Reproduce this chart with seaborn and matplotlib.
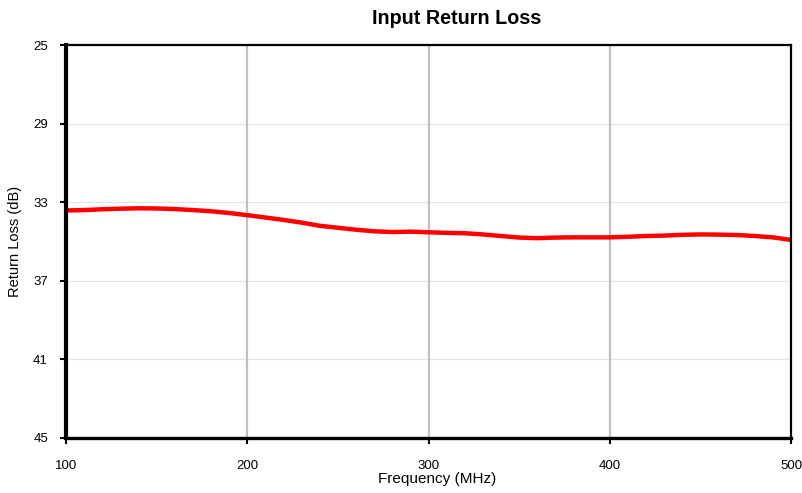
import numpy as np
import pandas as pd
import matplotlib
matplotlib.use("Agg")
import matplotlib.pyplot as plt
import seaborn as sns

# data
freq_mhz = [100, 110, 120, 130, 140, 150, 160, 170, 180, 190, 200, 210, 220, 230,
            240, 250, 260, 270, 280, 290, 300, 310, 320, 330, 340, 350, 360, 370,
            380, 390, 400, 410, 420, 430, 440, 450, 460, 470, 480, 490, 500]
return_loss_db = [33.42, 33.40, 33.36, 33.33, 33.31, 33.32, 33.35, 33.40, 33.46, 33.55,
                  33.66, 33.78, 33.90, 34.04, 34.20, 34.30, 34.40, 34.48, 34.52, 34.50,
                  34.53, 34.56, 34.58, 34.64, 34.72, 34.80, 34.83, 34.80, 34.79, 34.79,
                  34.79, 34.76, 34.72, 34.70, 34.66, 34.64, 34.65, 34.67, 34.72, 34.79,
                  34.92]
x_ticks = [100, 200, 300, 400, 500]
y_ticks = [25, 29, 33, 37, 41, 45]

sns.set_style("white")
plt.rcParams['font.family'] = ['Liberation Sans', 'DejaVu Sans']
plt.rcParams['text.color'] = 'black'
plt.rcParams['axes.labelcolor'] = 'black'
plt.rcParams['xtick.color'] = 'black'
plt.rcParams['ytick.color'] = 'black'

df = pd.DataFrame({'freq': freq_mhz, 'rl': return_loss_db})

fig = plt.figure(figsize=(8.02, 4.93), dpi=100)
ax = fig.add_axes([0.0823, 0.1116, 0.904, 0.7971])

# grid
for y in y_ticks[1:-1]:
    ax.axhline(y, color='#e3e3e3', lw=0.8, zorder=0)
for x in x_ticks[1:-1]:
    ax.axvline(x, color='#c0c0c0', lw=1.6, zorder=0)

sns.lineplot(data=df, x='freq', y='rl', color='#ff0000', lw=3.2, ax=ax)

ax.set_xlim(100, 500)
ax.set_ylim(45, 25)
ax.set_xticks(x_ticks)
ax.set_yticks(y_ticks)
ax.tick_params(axis='both', direction='out', length=4, width=1.5,
               labelsize=9.5, left=True, bottom=True)
ax.tick_params(axis='x', pad=12)
ax.tick_params(axis='y', pad=9)

for side, w in [('left', 3), ('bottom', 2.4), ('top', 1.6), ('right', 1.6)]:
    ax.spines[side].set_visible(True)
    ax.spines[side].set_color('black')
    ax.spines[side].set_linewidth(w)

ax.set_title("Input Return Loss", fontsize=14.2, fontweight='bold', pad=15, x=0.539)
ax.set_xlabel("Frequency (MHz)", fontsize=11, labelpad=0)
ax.xaxis.set_label_coords(0.512, -0.087)
ax.set_ylabel("Return Loss (dB)", fontsize=10.5, labelpad=8)

plt.savefig('out.png', dpi=100)
plt.close()
